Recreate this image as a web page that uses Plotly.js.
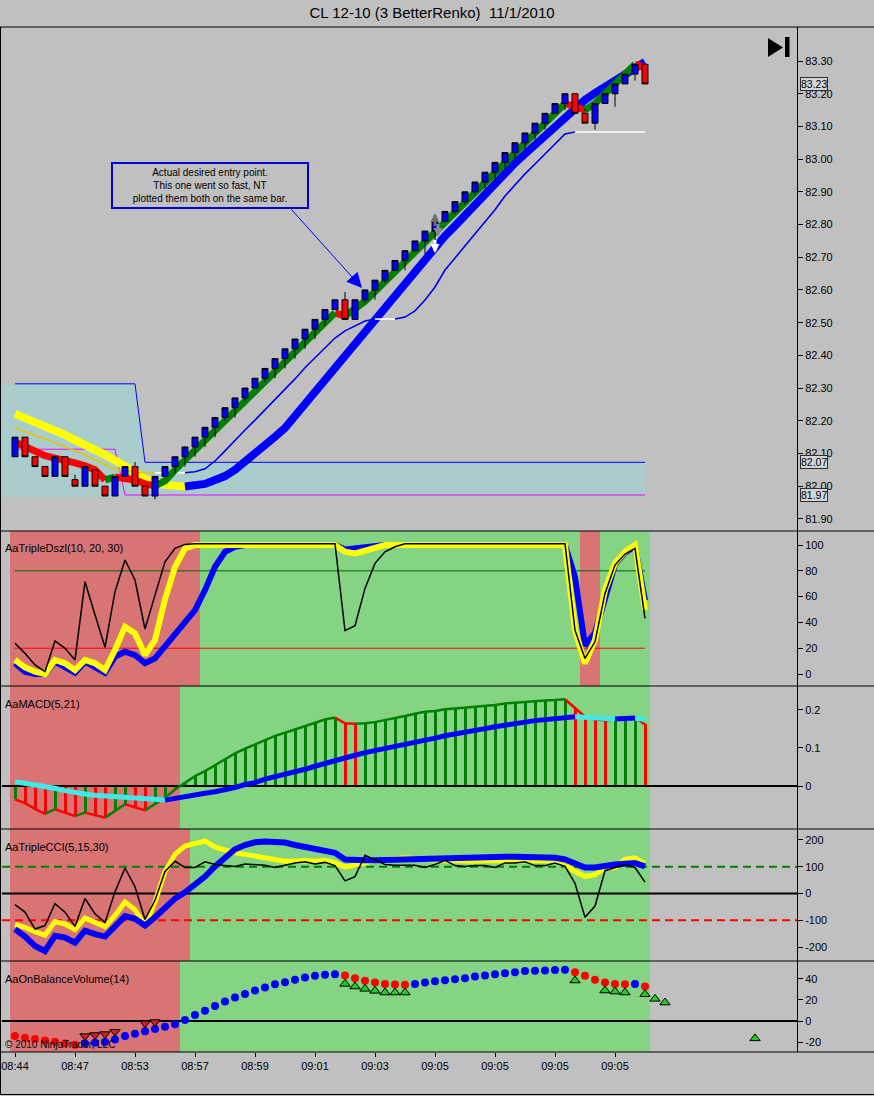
<!DOCTYPE html>
<html><head><meta charset="utf-8">
<script src="https://cdn.plot.ly/plotly-3.0.1.min.js"></script>
<style>html,body{margin:0;padding:0;background:#c0c0c0;}#chart{width:874px;height:1096px;}</style>
</head><body><div id="chart"></div>
<script>
// ---------------- DATA ----------------
const timeTickIdx = [0, 6, 12, 18, 24, 30, 36, 42, 48, 54, 60];
const timeLabels = ['08:44','08:47','08:53','08:57','08:59','09:01','09:03','09:05','09:05','09:05','09:05'];

const openP = [82.09,82.15,82.09,82.06,82.03,82.09,82.02,82.00,82.05,82.00,
  81.97,82.03,82.06,82.00,81.97,82.03,82.06,82.09,82.12,82.15,
  82.18,82.21,82.24,82.27,82.30,82.33,82.36,82.39,82.42,82.45,
  82.48,82.51,82.54,82.57,82.51,82.57,82.60,82.63,82.66,82.69,
  82.72,82.75,82.78,82.81,82.84,82.87,82.90,82.93,82.96,82.99,
  83.02,83.05,83.08,83.11,83.14,83.17,83.20,83.14,83.11,83.17,
  83.20,83.23,83.26,83.29];
const closeP = [82.15,82.09,82.06,82.03,82.09,82.03,82.00,82.06,82.00,81.97,
  82.03,82.06,82.00,81.97,82.03,82.06,82.09,82.12,82.15,82.18,
  82.21,82.24,82.27,82.30,82.33,82.36,82.39,82.42,82.45,82.48,
  82.51,82.54,82.57,82.51,82.57,82.60,82.63,82.66,82.69,82.72,
  82.75,82.78,82.81,82.84,82.87,82.90,82.93,82.96,82.99,83.02,
  83.05,83.08,83.11,83.14,83.17,83.20,83.14,83.11,83.17,83.20,
  83.23,83.26,83.29,83.23];
const highP = [82.15,82.15,82.09,82.06,82.09,82.09,82.035,82.06,82.05,82.00,
  82.03,82.06,82.074,82.00,82.03,82.06,82.09,82.12,82.15,82.18,
  82.21,82.24,82.27,82.30,82.33,82.36,82.39,82.42,82.45,82.48,
  82.51,82.54,82.57,82.594,82.57,82.60,82.63,82.66,82.69,82.72,
  82.75,82.78,82.81,82.84,82.87,82.90,82.93,82.96,82.99,83.02,
  83.05,83.08,83.11,83.14,83.17,83.20,83.20,83.153,83.17,83.20,
  83.23,83.26,83.29,83.29];
const lowP = [82.09,82.09,82.06,82.03,82.03,82.03,82.00,82.00,82.00,81.97,
  81.97,82.03,82.00,81.97,81.96,82.03,82.04,82.06,82.09,82.12,
  82.15,82.20,82.21,82.26,82.30,82.32,82.33,82.36,82.39,82.42,
  82.45,82.49,82.54,82.51,82.51,82.56,82.57,82.62,82.66,82.66,
  82.72,82.71,82.72,82.81,82.83,82.86,82.89,82.91,82.93,82.97,
  83.00,83.03,83.06,83.09,83.14,83.15,83.14,83.11,83.09,83.17,
  83.16,83.23,83.24,83.23];

const slowMA = [82.221,82.209,82.196,82.181,82.169,82.157,82.141,82.129,82.111,82.096,
  82.080,82.062,82.044,82.022,82.010,82.004,82.001,81.999,82.002,82.007,
  82.019,82.031,82.050,82.074,82.096,82.123,82.151,82.178,82.215,82.252,
  82.288,82.328,82.365,82.404,82.441,82.478,82.514,82.551,82.588,82.624,
  82.661,82.698,82.731,82.765,82.796,82.829,82.860,82.893,82.924,82.961,
  82.988,83.016,83.043,83.071,83.098,83.132,83.159,83.181,83.202,83.221,
  83.242,83.263,83.285,83.297];
const fastMA = [82.135,82.120,82.105,82.093,82.086,82.080,82.071,82.062,82.050,82.019,
  82.028,82.025,82.019,82.007,82.001,82.016,82.050,82.080,82.110,82.140,
  82.170,82.200,82.230,82.260,82.290,82.320,82.350,82.380,82.410,82.440,
  82.470,82.500,82.530,82.520,82.540,82.565,82.595,82.625,82.655,82.685,
  82.715,82.745,82.775,82.805,82.835,82.865,82.895,82.925,82.955,82.985,
  83.015,83.045,83.075,83.105,83.135,83.170,83.160,83.150,83.170,83.200,
  83.230,83.260,83.290,83.280];
const trailLine = [82.178,82.166,82.155,82.145,82.132,82.120,82.108,82.096,82.080,82.065,
  82.050,82.047,82.043,82.042,82.041,82.041,82.041,82.041,82.044,82.053,
  82.077,82.108,82.141,82.172,82.202,82.233,82.267,82.297,82.328,82.362,
  82.392,82.423,82.453,82.475,82.490,82.505,82.511,82.511,82.511,82.517,
  82.536,82.569,82.609,82.661,82.698,82.734,82.771,82.808,82.845,82.887,
  82.921,82.955,82.985,83.016,83.049,83.077,83.083,83.083,83.083,83.083,
  83.083,83.083,83.083,83.083];
// range box lines as runs [level, bar count]
const rangeHighRuns = [[82.313, 13], [82.073, 51]];
const rangeLowRuns = [[82.113, 11], [81.973, 53]];
const zoneFloor = 81.967;
const priceTicks = [81.9,82.0,82.1,82.2,82.3,82.4,82.5,82.6,82.7,82.8,82.9,83.0,83.1,83.2,83.3];

// signal arrows on bar 42
const sigIdx = [42, 42.3, 42];
const sigPrice = [82.835, 82.762, 82.713];
const sigDir = [-1, 1, 1];
const sigColor = ['#6c6c6c', '#8c8c8c', '#ffffff'];
const calloutText = 'Actual desired entry point.<br>This one went so fast, NT<br>plotted them both on the same bar.';
const calloutAt = [19.5, 82.919];
const calloutTail = [27.5, 82.851];
const calloutTip = [34.7, 82.606];

// AaTripleDszl
const dszlFast = [23.8,16,7,1.8,25.6,19.9,10.9,71.6,46,20.7,
  63.8,88.4,72.9,34.9,61.2,87,97.4,100.5,101,101,
  101,101,101,101,101,101,101,101,101,101,
  101,101,101,33.6,37.5,66.4,85.8,94.8,98.7,101,
  101,101,101,101,101,101,101,101,101,101,
  101,101,101,101,101,101,34,12.1,25,62.5,
  84.5,93,97.4,43.2];
const dszlMid = [10.9,5.2,1.8,0,10.9,8.3,3.1,10.9,8.3,3.1,
  18.6,36.7,31.5,14.7,26.4,58,83,97.4,100,100,
  100,100,100,100,100,100,100,100,100,100,
  100,100,100,94.8,93.5,95.6,98.2,100,100,100,
  100,100,100,100,100,100,100,100,100,100,
  100,100,100,100,100,100,34,8.3,26.4,65,
  85.8,94.8,100,49.6];
const dszlSlow = [8.3,1.8,0,0,9.6,5.7,1,9.6,5.7,1,
  13.5,17.3,14.7,8.3,12.1,21.2,30.2,39.3,49.6,65.1,
  83.2,94.8,98.7,100,100,100,100,100,100,100,
  100,100,100,96.6,97.4,99,100,100,100,100,
  100,100,100,100,100,100,100,100,100,100,
  100,100,100,100,100,100,75,22,32,60,
  85,94,99,57];
const dszlBgRuns = [['R',19],['G',38],['R',2],['G',5]];

// AaMACD
const macdHist = [-0.035,-0.045,-0.060,-0.073,-0.061,-0.070,-0.079,-0.070,-0.077,-0.083,
  -0.066,-0.048,-0.055,-0.064,-0.048,-0.031,-0.009,0.009,0.026,0.039,
  0.054,0.070,0.086,0.098,0.110,0.121,0.132,0.140,0.149,0.158,
  0.167,0.175,0.180,0.165,0.164,0.165,0.168,0.173,0.178,0.184,
  0.190,0.195,0.197,0.202,0.204,0.206,0.208,0.211,0.213,0.217,
  0.219,0.221,0.224,0.225,0.226,0.228,0.206,0.182,0.175,0.173,
  0.174,0.179,0.180,0.162];
const macdSignal = [0.011,0.007,0.004,0.000,-0.006,-0.012,-0.018,-0.021,-0.024,-0.026,
  -0.028,-0.031,-0.033,-0.035,-0.036,-0.037,-0.032,-0.026,-0.022,-0.019,
  -0.015,-0.011,-0.004,0.004,0.009,0.018,0.024,0.031,0.037,0.044,
  0.052,0.060,0.068,0.075,0.081,0.088,0.093,0.099,0.104,0.110,
  0.115,0.121,0.126,0.132,0.136,0.140,0.146,0.151,0.156,0.161,
  0.165,0.168,0.172,0.175,0.178,0.180,0.182,0.180,0.178,0.177,
  0.176,0.178,0.179,0.175];
const macdBgRuns = [['R',17],['G',47]];

// AaTripleCCI
const cciFast = [-41.8,-69.6,-133,-120,-38,-70,-123,-19,-76,-108,
  6,95,25,-97,-25,82,120,97,97,118,
  108,105,101,110,108,105,97,105,114,118,
  110,116,104,47,63,143,127,108,105,105,
  105,97,108,124,104,101,104,104,97,114,
  114,118,104,104,114,101,38,-89,-47,85,
  97,108,97,42];
const cciMid = [-116,-127,-143,-156,-105,-114,-135,-92,-108,-124,
  -82,-32,-61,-120,-32,82,146,177,186,196,
  173,161,152,146,139,133,124,120,120,123,
  120,124,114,99,105,114,123,127,130,133,
  130,126,124,122,122,120,120,122,122,122,
  123,122,122,122,123,108,82,63,70,95,
  97,127,133,110];
const cciSlow = [-133,-161,-196,-215,-158,-165,-184,-139,-152,-161,
  -123,-85,-95,-120,-89,-51,-19,4,32,63,
  101,135,165,181,191,194,194,190,181,173,
  168,161,152,127,124,124,124,125,127,130,
  132,133,133,135,137,137,137,137,137,137,
  137,137,137,136,133,127,114,97,97,105,
  108,111,114,101];
const cciBgRuns = [['R',18],['G',46]];

// AaOnBalanceVolume
const obv = [-14.3,-15.9,-17.1,-18.4,-19.7,-21.3,-22.5,-21.3,-20.6,-20.0,
  -17.5,-14.3,-12.1,-9.8,-7.6,-5.4,-3.2,1.0,5.7,9.8,
  14.3,18.4,22.2,25.7,28.9,31.7,34.9,36.8,39.0,41.3,
  42.9,43.8,44.4,43.2,40.6,38.1,36.5,35.2,34.6,34.4,
  35.2,36.5,37.8,38.7,39.7,40.6,42.2,43.2,44.4,45.4,
  46.3,47.3,47.6,47.9,48.3,48.6,46.3,42.9,39.0,36.5,
  35.2,34.9,35.2,32.7];
const obvUpX = [33,34,35,36,37,38,39,56,59,60,61,63,64,65,74];
const obvUpY = [35.2,32.7,30.5,28.6,27,27,27,38.4,28.9,27.9,27,25.4,21,17.5,-16.5];
const obvDnX = [7,8,9,10,13,14];
const obvDnY = [-14.3,-13.3,-12.4,-10.2,-2.2,-1.0];
const obvBgRuns = [['R',17],['G',47]];

// ---------------- LAYOUT CONSTANTS ----------------
const W = 874, H = 1096;
const px = v => v / W;
const py = v => 1 - v / H;
const FONT = 'Liberation Sans, Arial, sans-serif';
const xRange = [-1.3, 78.2];
const mainRange = [81.863, 83.404];
const dszlRange = [-9.3, 110.9];
const macdRange = [-0.113, 0.263];
const cciRange = [-252.3, 240.7];
const obvRange = [-29.4, 56.9];
const RED_BG = '#d97474', GREEN_BG = '#84d484', TEAL = '#a9cdcd';

const idx = openP.map((_, i) => i);
const expand = runs => runs.reduce((a, r) => a.concat(Array(r[1]).fill(r[0])), []);
const rangeHigh = expand(rangeHighRuns);
const rangeLow = expand(rangeLowRuns);

function colorSegments(ys, pick) {
  const groups = {};
  for (let i = 1; i < ys.length; i++) {
    const c = pick(ys[i - 1], ys[i]);
    if (!groups[c]) groups[c] = {x: [], y: [], last: -5};
    const g = groups[c];
    if (g.last !== i - 1) {
      if (g.x.length) { g.x.push(null); g.y.push(null); }
      g.x.push(idx[i - 1]); g.y.push(ys[i - 1]);
    }
    g.x.push(idx[i]); g.y.push(ys[i]);
    g.last = i;
  }
  return groups;
}
const slope2 = (a, b) => (b > a ? 'up' : 'dn');
const slope3 = (a, b) => (b > a ? 'up' : (b < a ? 'dn' : 'flat'));

function segTraces(ys, pick, colors, width, yaxis) {
  const g = colorSegments(ys, pick);
  return Object.keys(colors).filter(k => g[k]).map(k => ({
    type: 'scatter', mode: 'lines', x: g[k].x, y: g[k].y, yaxis: yaxis,
    line: {color: colors[k], width: width}, connectgaps: false, hoverinfo: 'skip'
  }));
}
function lineTrace(ys, color, width, yaxis, dash) {
  return {type: 'scatter', mode: 'lines', x: idx, y: ys, yaxis: yaxis,
    line: {color: color, width: width, dash: dash || 'solid'}, hoverinfo: 'skip'};
}
function hline(level, color, width, yaxis, dash, xs) {
  const xv = xs || xRange;
  return {type: 'scatter', mode: 'lines', x: xv, y: xv.map(() => level), yaxis: yaxis,
    line: {color: color, width: width, dash: dash || 'solid'}, hoverinfo: 'skip'};
}
function bgTrace(runs, range, yaxis) {
  const st = expand(runs);
  return {type: 'bar', x: idx, y: st.map(() => range[1] - range[0]), base: range[0], width: 1,
    yaxis: yaxis, marker: {color: st.map(s => s === 'R' ? RED_BG : GREEN_BG), line: {width: 0}},
    hoverinfo: 'skip'};
}

// ---------------- TRACES ----------------
const traces = [];
// main panel
const zoneX = [xRange[0]].concat(idx);
traces.push({type: 'scatter', mode: 'lines', x: zoneX, y: zoneX.map(() => zoneFloor),
  line: {width: 0, color: TEAL}, hoverinfo: 'skip', yaxis: 'y'});
traces.push({type: 'scatter', mode: 'lines', x: zoneX, y: [rangeHigh[0]].concat(rangeHigh),
  fill: 'tonexty', fillcolor: TEAL, line: {width: 0, color: TEAL}, hoverinfo: 'skip', yaxis: 'y'});
traces.push(lineTrace(rangeHigh, '#0000ff', 1, 'y'));
traces.push(lineTrace(rangeLow, '#ff00ff', 1, 'y'));
segTraces(slowMA, slope2, {dn: '#ffff00', up: '#0000ff'}, 8, 'y').forEach(t => traces.push(t));
segTraces(trailLine, slope3, {dn: '#e8c400', up: '#0000ee', flat: '#ffffff'}, 1.6, 'y').forEach(t => traces.push(t));
segTraces(fastMA, slope2, {dn: '#ff0000', up: '#008000'}, 7, 'y').forEach(t => traces.push(t));
traces.push({type: 'candlestick', x: idx, open: openP, high: highP, low: lowP, close: closeP,
  xaxis: 'x', yaxis: 'y6', whiskerwidth: 0, hoverinfo: 'none',
  increasing: {line: {color: '#000000', width: 1}, fillcolor: '#0000ff'},
  decreasing: {line: {color: '#000000', width: 1}, fillcolor: '#ff0000'}});

// DSZL panel
traces.push(bgTrace(dszlBgRuns, dszlRange, 'y2'));
traces.push(hline(80, '#006400', 1, 'y2', 'solid', [idx[0], idx[idx.length - 1]]));
traces.push(hline(20, '#ff0000', 1, 'y2', 'solid', [idx[0], idx[idx.length - 1]]));
traces.push(lineTrace(dszlSlow, '#0000ff', 6, 'y2'));
traces.push(lineTrace(dszlMid, '#ffff00', 6, 'y2'));
traces.push(lineTrace(dszlFast, '#000000', 1.5, 'y2'));

// MACD panel
traces.push(bgTrace(macdBgRuns, macdRange, 'y3'));
const histColors = macdHist.map((v, i) => (i === 0 || v >= macdHist[i - 1]) ? '#008000' : '#ff0000');
traces.push({type: 'bar', x: idx, y: macdHist, base: 0, width: 0.3, yaxis: 'y3',
  marker: {color: histColors, line: {width: 0}}, hoverinfo: 'skip'});
traces.push(hline(0, '#000000', 2, 'y3'));
segTraces(macdHist, slope2, {up: '#008000', dn: '#ff0000'}, 2.5, 'y3').forEach(t => traces.push(t));
segTraces(macdSignal, slope2, {dn: '#40e8e8', up: '#0000ff'}, 5, 'y3').forEach(t => traces.push(t));

// CCI panel
traces.push(bgTrace(cciBgRuns, cciRange, 'y4'));
traces.push(hline(100, '#008000', 2, 'y4', '8px,5px'));
traces.push(hline(0, '#000000', 2, 'y4'));
traces.push(hline(-100, '#ff0000', 2, 'y4', '8px,5px'));
traces.push(lineTrace(cciMid, '#ffff00', 5, 'y4'));
traces.push(lineTrace(cciSlow, '#0000ff', 6, 'y4'));
traces.push(lineTrace(cciFast, '#000000', 1.5, 'y4'));

// OBV panel
traces.push(bgTrace(obvBgRuns, obvRange, 'y5'));
traces.push(hline(0, '#000000', 2, 'y5'));
traces.push({type: 'scatter', mode: 'markers', x: idx, y: obv, yaxis: 'y5', hoverinfo: 'skip',
  marker: {symbol: 'circle', size: 8, color: obv.map((v, i) => (i > 0 && v > obv[i - 1]) ? '#0000ff' : '#ff0000'), line: {width: 0}}});
traces.push({type: 'scatter', mode: 'markers', x: obvUpX, y: obvUpY, yaxis: 'y5', hoverinfo: 'skip',
  marker: {symbol: 'triangle-up', size: 9, color: '#22cc22', line: {width: 1, color: '#000000'}}});
traces.push({type: 'scatter', mode: 'markers', x: obvDnX, y: obvDnY, yaxis: 'y5', hoverinfo: 'skip',
  marker: {symbol: 'triangle-down', size: 9, color: '#cc2020', line: {width: 1, color: '#000000'}}});

// ---------------- LAYOUT ----------------
const tickFont = {family: FONT, size: 11, color: '#000000'};
const yCommon = {side: 'right', anchor: 'x', showgrid: false, zeroline: false, showline: true,
  linecolor: '#000000', linewidth: 1, ticks: 'outside', ticklen: 5, tickcolor: '#000000',
  tickfont: tickFont, fixedrange: true};

const shapes = [];
[27, 531, 686, 829, 961, 1052, 1094.5].forEach(y => shapes.push({type: 'line', xref: 'paper', yref: 'paper',
  x0: 0, x1: 1, y0: py(y), y1: py(y), line: {color: '#000000', width: 1}}));
shapes.push({type: 'line', xref: 'paper', yref: 'paper', x0: px(0.5), x1: px(0.5), y0: py(27), y1: py(1094.5), line: {color: '#000000', width: 1}});
shapes.push({type: 'path', xref: 'paper', yref: 'paper', fillcolor: '#000000', line: {width: 0},
  path: `M ${px(768)},${py(38)} L ${px(783)},${py(47.5)} L ${px(768)},${py(57)} Z`});
shapes.push({type: 'rect', xref: 'paper', yref: 'paper', fillcolor: '#000000', line: {width: 0},
  x0: px(785), x1: px(789.5), y0: py(57), y1: py(37)});

const annotations = [];
[['AaTripleDszl(10, 20, 30)', 548], ['AaMACD(5,21)', 704], ['AaTripleCCI(5,15,30)', 847], ['AaOnBalanceVolume(14)', 979]]
  .forEach(a => annotations.push({xref: 'paper', yref: 'paper', x: px(3), y: py(a[1]), xanchor: 'left', yanchor: 'middle',
    text: a[0], showarrow: false, font: {family: FONT, size: 11, color: '#000000'}}));
annotations.push({xref: 'paper', yref: 'paper', x: px(3), y: py(1044), xanchor: 'left', yanchor: 'middle',
  text: '\u00a9 2010 NinjaTrader, LLC', showarrow: false, font: {family: FONT, size: 10, color: '#000000'}});
annotations.push({xref: 'x', yref: 'y', x: calloutAt[0], y: calloutAt[1], text: calloutText, showarrow: false,
  bgcolor: '#c0c0c0', bordercolor: '#0000cc', borderwidth: 2, borderpad: 3, width: 188, height: 37,
  align: 'center', font: {family: FONT, size: 10, color: '#000000'}});
annotations.push({xref: 'x', yref: 'y', x: calloutTip[0], y: calloutTip[1], axref: 'x', ayref: 'y',
  ax: calloutTail[0], ay: calloutTail[1], text: ' ', showarrow: true, arrowhead: 2, arrowsize: 3,
  arrowwidth: 1, arrowcolor: '#0000ff', standoff: 0, font: {size: 1}});
sigIdx.forEach((xv, i) => annotations.push({xref: 'x', yref: 'y', x: xv, y: sigPrice[i], ax: 0, ay: -15 * sigDir[i],
  text: ' ', showarrow: true, arrowhead: 2, arrowsize: 0.6, arrowwidth: 3, arrowcolor: sigColor[i], standoff: 0, font: {size: 1}}));
[closeP[closeP.length - 1], rangeHigh[rangeHigh.length - 1], rangeLow[rangeLow.length - 1]].forEach(v =>
  annotations.push({xref: 'paper', yref: 'y', x: px(800), xanchor: 'left', y: v, yanchor: 'middle',
    text: v.toFixed(2), showarrow: false, bgcolor: '#d4d4d4', bordercolor: '#303030', borderwidth: 1, borderpad: 0,
    font: {family: FONT, size: 10.5, color: '#000000'}}));

const layout = {
  width: W, height: H, margin: {l: 0, r: 0, t: 0, b: 0},
  paper_bgcolor: '#c0c0c0', plot_bgcolor: '#c0c0c0', showlegend: false, hovermode: false,
  barmode: 'overlay', bargap: 0, boxgap: 0.3, boxgroupgap: 0.15,
  title: {text: 'CL 12-10 (3 BetterRenko)\u00a0\u00a011/1/2010', x: px(432), xanchor: 'center', xref: 'container',
    y: py(13), yanchor: 'middle', yref: 'container', font: {family: FONT, size: 15, color: '#000000'}},
  xaxis: {domain: [px(2), px(797)], range: xRange, anchor: 'y5', showgrid: false, zeroline: false, showline: false,
    tickmode: 'array', tickvals: timeTickIdx, ticktext: timeLabels, ticks: 'outside', ticklen: 4, tickcolor: '#000000',
    tickfont: tickFont, rangeslider: {visible: false}, fixedrange: true},
  yaxis: Object.assign({}, yCommon, {domain: [py(531), py(27)], range: mainRange, tickmode: 'array',
    tickvals: priceTicks, ticktext: priceTicks.map(v => v.toFixed(2))}),
  yaxis6: {overlaying: 'y', side: 'right', anchor: 'x', range: mainRange, visible: false, fixedrange: true,
    showgrid: false, zeroline: false},
  yaxis2: Object.assign({}, yCommon, {domain: [py(686), py(531)], range: dszlRange, tickmode: 'array',
    tickvals: [0, 20, 40, 60, 80, 100], ticktext: ['0', '20', '40', '60', '80', '100']}),
  yaxis3: Object.assign({}, yCommon, {domain: [py(829), py(686)], range: macdRange, tickmode: 'array',
    tickvals: [0, 0.1, 0.2], ticktext: ['0', '0.1', '0.2']}),
  yaxis4: Object.assign({}, yCommon, {domain: [py(961), py(829)], range: cciRange, tickmode: 'array',
    tickvals: [-200, -100, 0, 100, 200], ticktext: ['-200', '-100', '0', '100', '200']}),
  yaxis5: Object.assign({}, yCommon, {domain: [py(1052), py(961)], range: obvRange, tickmode: 'array',
    tickvals: [-20, 0, 20, 40], ticktext: ['-20', '0', '20', '40']}),
  shapes: shapes, annotations: annotations
};

Plotly.newPlot('chart', traces, layout, {staticPlot: true, displayModeBar: false});
</script>
</body></html>
